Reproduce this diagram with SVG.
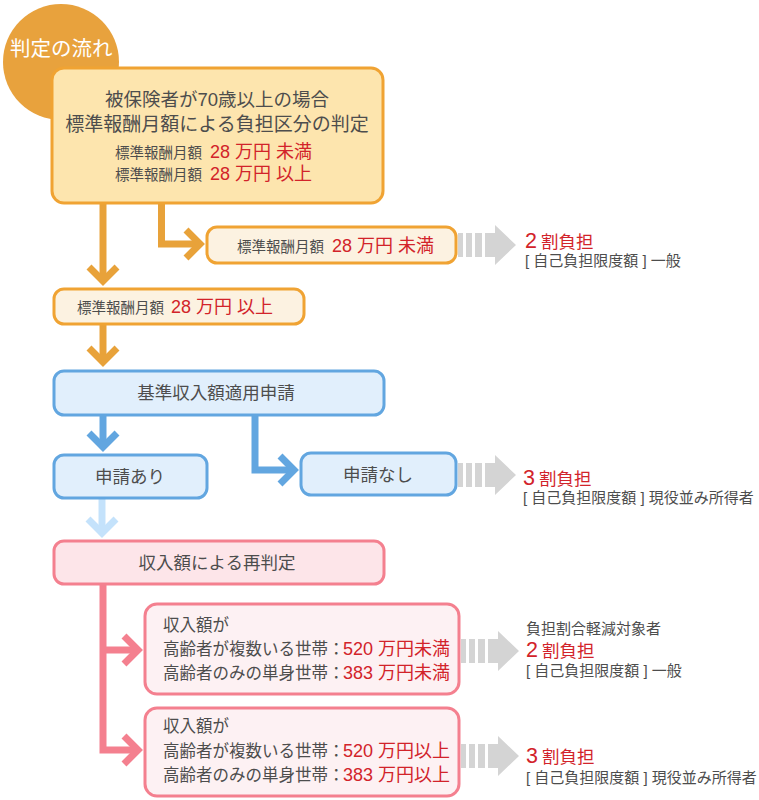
<svg xmlns="http://www.w3.org/2000/svg" xmlns:xlink="http://www.w3.org/1999/xlink" width="759" height="800" viewBox="0 0 759 800">
<style>
text{font-family:"Liberation Sans","Noto Sans CJK JP",sans-serif;fill:#4d4d4d}
.r{fill:#d2232a}
.w{fill:#ffffff}
.bo{fill:#fde5ae;stroke:#f0a333;stroke-width:3}
.bo2{fill:#fcf2e1;stroke:#f0a333;stroke-width:3}
.bb{fill:#e1effc;stroke:#62a6e0;stroke-width:3}
.bp{fill:#fde5e9;stroke:#f4808f;stroke-width:3}
.bp2{fill:#fdf1f3;stroke:#f4808f;stroke-width:3}
.co{fill:none;stroke:#e8a23a;stroke-width:7;stroke-linejoin:miter}
.cb{fill:none;stroke:#62a6e0;stroke-width:7;stroke-linejoin:miter}
.cl{fill:none;stroke:#c4e2fb;stroke-width:7;stroke-linejoin:miter}
.cp{fill:none;stroke:#f4808f;stroke-width:7;stroke-linejoin:miter}
.g{fill:#d4d4d4}
</style>
<defs>
<g id="garrow">
<rect class="g" x="0" y="-12" width="5" height="24"/>
<rect class="g" x="8" y="-12" width="6" height="24"/>
<rect class="g" x="17" y="-12" width="7" height="24"/>
<polygon class="g" points="27,-12 37,-12 37,-20 58,0 37,20 37,12 27,12"/>
</g>
</defs>

<g id="title">
<circle cx="61" cy="62" r="58" fill="#e8a23d"/>
<text class="w" x="10" y="56" font-size="20.5">判定の流れ</text>
</g>

<g id="connectors">
<path class="co" d="M103 204 V281"/>
<path class="co" d="M89 267 L103 281 L117 267"/>
<path class="co" d="M161.5 204 V244 H200"/>
<path class="co" d="M186 230 L200 244 L186 258"/>
<path class="co" d="M103 324 V362"/>
<path class="co" d="M89 348 L103 362 L117 348"/>
<path class="cb" d="M103 415 V447"/>
<path class="cb" d="M89 433 L103 447 L117 433"/>
<path class="cb" d="M255 415 V470 H294"/>
<path class="cb" d="M280 456 L294 470 L280 484"/>
<path class="cl" d="M102 498 V533"/>
<path class="cl" d="M88 519 L102 533 L116 519"/>
<path class="cp" d="M103 584 V750 H138"/>
<path class="cp" d="M103 650 H138"/>
<path class="cp" d="M124 636 L138 650 L124 664"/>
<path class="cp" d="M124 736 L138 750 L124 764"/>
<use xlink:href="#garrow" x="458" y="245"/>
<use xlink:href="#garrow" x="458" y="475"/>
<use xlink:href="#garrow" x="461" y="651"/>
<use xlink:href="#garrow" x="461" y="756"/>
</g>

<g id="node-main">
<rect class="bo" x="52" y="68" width="331" height="135" rx="12"/>
<text x="217" y="106" font-size="18.5" text-anchor="middle">被保険者が70歳以上の場合</text>
<text x="217" y="131" font-size="19" text-anchor="middle">標準報酬月額による負担区分の判定</text>
<text x="115" y="158" font-size="14.5">標準報酬月額<tspan class="r" x="210" font-size="18">28 万円 未満</tspan></text>
<text x="115" y="180" font-size="14.5">標準報酬月額<tspan class="r" x="210" font-size="18">28 万円 以上</tspan></text>
</g>

<g id="node-under28">
<rect class="bo2" x="207" y="227" width="249" height="36" rx="10"/>
<text x="237" y="252" font-size="14.5">標準報酬月額<tspan class="r" x="332" font-size="18">28 万円 未満</tspan></text>
</g>

<g id="node-over28">
<rect class="bo2" x="54" y="289" width="250" height="35" rx="10"/>
<text x="77" y="313" font-size="14.5">標準報酬月額<tspan class="r" x="171" font-size="18">28 万円 以上</tspan></text>
</g>

<g id="node-apply">
<rect class="bb" x="54" y="371" width="330" height="44" rx="10"/>
<text x="216" y="399" font-size="17.5" text-anchor="middle">基準収入額適用申請</text>
</g>

<g id="node-yes">
<rect class="bb" x="54" y="455" width="153" height="43" rx="10"/>
<text x="130" y="483" font-size="17.5" text-anchor="middle">申請あり</text>
</g>

<g id="node-no">
<rect class="bb" x="301" y="453" width="155" height="42" rx="10"/>
<text x="378" y="481" font-size="17.5" text-anchor="middle">申請なし</text>
</g>

<g id="node-rejudge">
<rect class="bp" x="54" y="541" width="330" height="43" rx="10"/>
<text x="217" y="569" font-size="17.5" text-anchor="middle">収入額による再判定</text>
</g>

<g id="node-income-low">
<rect class="bp2" x="145" y="604" width="314" height="90" rx="12"/>
<text x="163" y="631" font-size="16.5">収入額が</text>
<text x="163" y="655" font-size="16.5">高齢者が複数いる世帯：<tspan class="r" x="343" font-size="18">520 万円未満</tspan></text>
<text x="163" y="679" font-size="16.5">高齢者のみの単身世帯：<tspan class="r" x="343" font-size="18">383 万円未満</tspan></text>
</g>

<g id="node-income-high">
<rect class="bp2" x="145" y="708" width="314" height="88" rx="12"/>
<text x="163" y="732" font-size="16.5">収入額が</text>
<text x="163" y="757" font-size="16.5">高齢者が複数いる世帯：<tspan class="r" x="343" font-size="18">520 万円以上</tspan></text>
<text x="163" y="781" font-size="16.5">高齢者のみの単身世帯：<tspan class="r" x="343" font-size="18">383 万円以上</tspan></text>
</g>

<g id="result-1">
<text class="r" x="525" y="248" font-size="21.5">2<tspan font-size="17.5" dx="4">割負担</tspan></text>
<text x="525" y="266" font-size="15">[ 自己負担限度額 ] 一般</text>
</g>

<g id="result-2">
<text class="r" x="523" y="485" font-size="21.5">3<tspan font-size="17.5" dx="4">割負担</tspan></text>
<text x="523" y="503" font-size="15">[ 自己負担限度額 ] 現役並み所得者</text>
</g>

<g id="result-3">
<text x="526" y="634" font-size="15">負担割合軽減対象者</text>
<text class="r" x="526" y="657" font-size="21.5">2<tspan font-size="17.5" dx="4">割負担</tspan></text>
<text x="526" y="676" font-size="15">[ 自己負担限度額 ] 一般</text>
</g>

<g id="result-4">
<text class="r" x="526" y="763" font-size="21.5">3<tspan font-size="17.5" dx="4">割負担</tspan></text>
<text x="526" y="783" font-size="15">[ 自己負担限度額 ] 現役並み所得者</text>
</g>
</svg>
